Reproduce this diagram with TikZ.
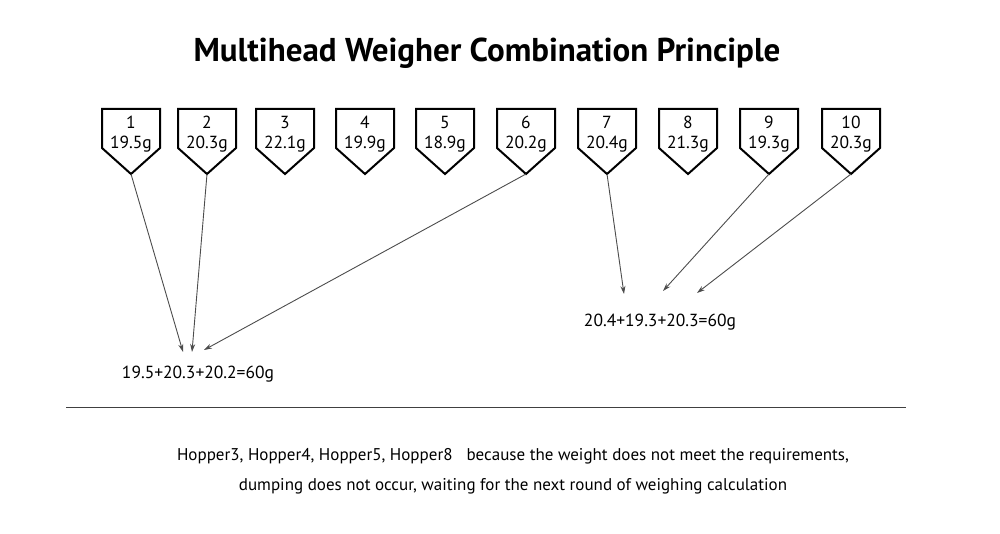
\documentclass[tikz,border=0pt]{standalone}
\usepackage{fontspec}
\setmainfont{PT Sans}
\usetikzlibrary{arrows.meta}
\tikzset{
  hopperline/.style={draw=black,line width=2},
  hoppertext/.style={inner sep=0,font=\fontsize{17.5}{17.5}\selectfont},
  feed/.style={draw=black!70,line width=0.9,-{Stealth[length=8,width=5]}},
  sumtext/.style={inner sep=0,font=\fontsize{17.5}{17.5}\selectfont}
}
% one hopper: name, centre x, number, weight
\newcommand{\hopperat}[4]{%
  \draw[hopperline] (#2-29,109) -- (#2+29,109) -- (#2+29,148) -- (#2,174) -- (#2-29,148) -- cycle;
  \node[hoppertext] (num#1) at (#2,122) {#3};
  \node[hoppertext] (wt#1) at (#2,144) {#4};
  \coordinate (h#1) at (#2,174);
}
\begin{document}
\begin{tikzpicture}[x=1pt,y=-1pt]
      \useasboundingbox (0,0) rectangle (1000,534);
      \node[inner sep=0,font=\fontsize{33}{33}\selectfont\bfseries] (title) at (487,53) {Multihead Weigher Combination Principle};
      \hopperat{1}{131}{1}{19.5g}
      \hopperat{2}{207}{2}{20.3g}
      \hopperat{3}{285}{3}{22.1g}
      \hopperat{4}{365}{4}{19.9g}
      \hopperat{5}{445}{5}{18.9g}
      \hopperat{6}{526}{6}{20.2g}
      \hopperat{7}{607}{7}{20.4g}
      \hopperat{8}{688}{8}{21.3g}
      \hopperat{9}{769}{9}{19.3g}
      \hopperat{10}{851}{10}{20.3g}
      \node[sumtext] (sumA) at (198,374) {19.5+20.3+20.2=60g};
      \node[sumtext] (sumB) at (660,322) {20.4+19.3+20.3=60g};
      \coordinate (a1) at (183,352);
      \coordinate (a2) at (192,352);
      \coordinate (a3) at (204,350);
      \coordinate (b1) at (624,294);
      \coordinate (b2) at (663,291);
      \coordinate (b3) at (697,293);
      \begin{scope}[feed]
        \draw (h1) to (a1);
        \draw (h2) to (a2);
        \draw (h6) to (a3);
        \draw (h7) to (b1);
        \draw (h9) to (b2);
        \draw (h10) to (b3);
      \end{scope}
      \coordinate (ruleL) at (66,407);
      \coordinate (ruleR) at (906,407);
      \draw[black!75,line width=1] (ruleL) -- (ruleR);
      \node[inner sep=0,font=\fontsize{17}{17}\selectfont] (note1) at (513,456) {Hopper3, Hopper4, Hopper5, Hopper8\hspace{14pt}because the weight does not meet the requirements,};
      \node[inner sep=0,font=\fontsize{17}{17}\selectfont] (note2) at (513,486) {dumping does not occur, waiting for the next round of weighing calculation};
    \end{tikzpicture}
\end{document}
